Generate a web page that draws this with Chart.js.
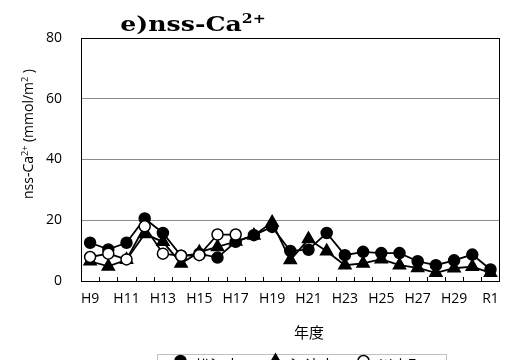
<!DOCTYPE html>
<html>
<head>
<meta charset="utf-8">
<script src="https://cdn.jsdelivr.net/npm/chart.js@4/dist/chart.umd.min.js"></script>
<style>
  html, body { margin: 0; padding: 0; background: #fff; }
  #wrap { width: 509px; height: 360px; }
</style>
</head>
<body>
<div id="wrap"><canvas id="c" width="509" height="360"></canvas></div>
<script>
// Year labels (Heisei 9 .. Reiwa 1)
const years = ['H9', 'H10', 'H11', 'H12', 'H13', 'H14', 'H15', 'H16', 'H17', 'H18', 'H19', 'H20',
    'H21', 'H22', 'H23', 'H24', 'H25', 'H26', 'H27', 'H28', 'H29', 'H30', 'R1'];

// nss-Ca2+ deposition (mmol/m2)
const matsue = [12.6, 10.4, 12.6, 20.6, 15.8, 8.3, 9.0, 7.7, 12.9, 15.1, 17.8, 9.9,
    10.3, 15.8, 8.5, 9.6, 9.2, 9.2, 6.5, 5.2, 6.8, 8.7, 3.8];
const gotsu = [6.5, 4.8, 7.0, 15.5, 12.9, 5.8, 9.5, 11.2, 13.0, 15.0, 19.3, 6.9,
    13.8, 9.8, 5.2, 5.8, 7.2, 5.2, 4.3, 2.7, 4.2, 4.7, 2.7];
const kawamoto = [7.9, 9.0, 7.1, 18.0, 9.0, 8.3, 8.5, 15.3, 15.3, null, null, null,
    null, null, null, null, null, null, null, null, null, null, null];

const seriesNames = ['松江市', '江津市', '川本町'];
const yTicks = [0, 20, 40, 60, 80];

const SANS = '"Open Sans", "Noto Sans", sans-serif';
const CJK = '"Noto Sans CJK JP", sans-serif';

// draw text with superscript parts, centred on x (sx = horizontal stretch)
function drawRich(ctx, parts, x, y, size, family, weight, sx = 1) {
    const supSize = Math.round(size * 0.62);
    let total = 0;
    const widths = parts.map(([t, sup]) => {
        ctx.font = `${weight} ${sup ? supSize : size}px ${family}`;
        const w = ctx.measureText(t).width;
        total += w;
        return w;
    });
    ctx.save();
    ctx.translate(x, y);
    ctx.scale(sx, 1);
    let cx = -total / 2;
    parts.forEach(([t, sup], i) => {
        ctx.font = `${weight} ${sup ? supSize : size}px ${family}`;
        ctx.fillText(t, cx, sup ? -size * 0.38 : 0);
        cx += widths[i];
    });
    ctx.restore();
}

function drawMarker(ctx, style, x, y) {
    ctx.save();
    ctx.lineWidth = 1.5;
    ctx.strokeStyle = '#000';
    ctx.fillStyle = style === 'open' ? '#fff' : '#000';
    ctx.beginPath();
    if (style === 'triangle') {
        const r = 7;
        ctx.moveTo(x, y - r);
        ctx.lineTo(x + r * 0.866, y + r / 2);
        ctx.lineTo(x - r * 0.866, y + r / 2);
        ctx.closePath();
    } else {
        ctx.arc(x, y, 5.5, 0, Math.PI * 2);
    }
    ctx.fill();
    ctx.stroke();
    ctx.restore();
}

const decor = {
    id: 'decor',
    beforeDatasetsDraw(chart) {
        const { ctx, chartArea, scales } = chart;
        const x = scales.x;
        const step = x.getPixelForValue(1) - x.getPixelForValue(0);
        // inward tick marks at category boundaries
        ctx.save();
        ctx.strokeStyle = '#000';
        ctx.lineWidth = 1;
        ctx.beginPath();
        for (let i = 1; i < years.length; i++) {
            const px = Math.round(x.getPixelForValue(i) - step / 2) + 0.5;
            ctx.moveTo(px, chartArea.bottom - 4);
            ctx.lineTo(px, chartArea.bottom);
        }
        ctx.stroke();
        // plot frame
        ctx.strokeRect(Math.round(chartArea.left) + 0.5, Math.round(chartArea.top) + 0.5,
            Math.round(chartArea.right - chartArea.left) - 1, Math.round(chartArea.bottom - chartArea.top));
        ctx.restore();
    },
    afterDraw(chart) {
        const { ctx } = chart;
        ctx.save();
        ctx.fillStyle = '#000';
        ctx.textBaseline = 'alphabetic';

        // chart title
        drawRich(ctx, [['e)nss-Ca', false], ['2+', true]], 193, 31, 21, '"DejaVu Serif", serif', 'bold', 1.2);

        // y axis title
        ctx.save();
        ctx.translate(33, 134);
        ctx.rotate(-Math.PI / 2);
        drawRich(ctx, [['nss-Ca', false], ['2+', true], [' (mmol/m', false], ['2', true], [' )', false]], 0, 0, 14, SANS, 'normal');
        ctx.restore();

        // x axis title
        ctx.font = `15px ${CJK}`;
        ctx.textAlign = 'center';
        ctx.textBaseline = 'middle';
        ctx.fillText('年度', 309, 332);

        // legend
        ctx.strokeStyle = '#c0c0c0';
        ctx.lineWidth = 1;
        ctx.strokeRect(157.5, 354.5, 289, 30);
        const items = [
            { x: 170, style: 'filled' },
            { x: 265, style: 'triangle' },
            { x: 353, style: 'open' }
        ];
        items.forEach((it, i) => {
            ctx.strokeStyle = '#000';
            ctx.lineWidth = 1.8;
            ctx.beginPath();
            ctx.moveTo(it.x, 361);
            ctx.lineTo(it.x + 21, 361);
            ctx.stroke();
            drawMarker(ctx, it.style, it.x + 10.5, 361);
            ctx.fillStyle = '#000';
            ctx.textAlign = 'left';
            ctx.font = `15px ${CJK}`;
            ctx.fillText(seriesNames[i], it.x + 25, 365);
        });
        ctx.restore();
    }
};

const common = {
    borderColor: '#000',
    borderWidth: 1.8,
    pointBorderColor: '#000',
    pointBorderWidth: 1.5,
    pointRadius: 5.5,
    tension: 0,
    fill: false,
    spanGaps: false
};

new Chart(document.getElementById('c'), {
    type: 'line',
    data: {
        labels: years,
        datasets: [
            { ...common, label: seriesNames[0], data: matsue, pointStyle: 'circle', pointBackgroundColor: '#000', order: 3 },
            { ...common, label: seriesNames[1], data: gotsu, pointStyle: 'triangle', pointRadius: 7, pointBackgroundColor: '#000', order: 2 },
            { ...common, label: seriesNames[2], data: kawamoto, pointStyle: 'circle', pointBackgroundColor: '#fff', order: 1 }
        ]
    },
    options: {
        responsive: false,
        animation: false,
        layout: { padding: { top: 38, right: 2, bottom: 0, left: 0 } },
        plugins: {
            legend: { display: false },
            title: { display: false },
            tooltip: { enabled: false }
        },
        scales: {
            x: {
                offset: true,
                grid: { display: false, drawTicks: false },
                border: { display: true, color: '#000', width: 1 },
                ticks: {
                    autoSkip: false,
                    maxRotation: 0,
                    padding: 10,
                    color: '#000',
                    font: { family: SANS, size: 14 },
                    callback: (v, i) => (i % 2 === 0 ? years[i] : '')
                },
                afterFit: scale => { scale.height = 79; }
            },
            y: {
                min: 0,
                max: 80,
                afterBuildTicks: scale => { scale.ticks = yTicks.map(v => ({ value: v })); },
                grid: { color: '#8c8c8c', lineWidth: 1, drawTicks: false },
                border: { display: true, color: '#000', width: 1 },
                ticks: {
                    padding: 19,
                    color: '#000',
                    font: { family: SANS, size: 14 }
                },
                afterFit: scale => { scale.width = 81; }
            }
        }
    },
    plugins: [decor]
});
</script>
</body>
</html>
